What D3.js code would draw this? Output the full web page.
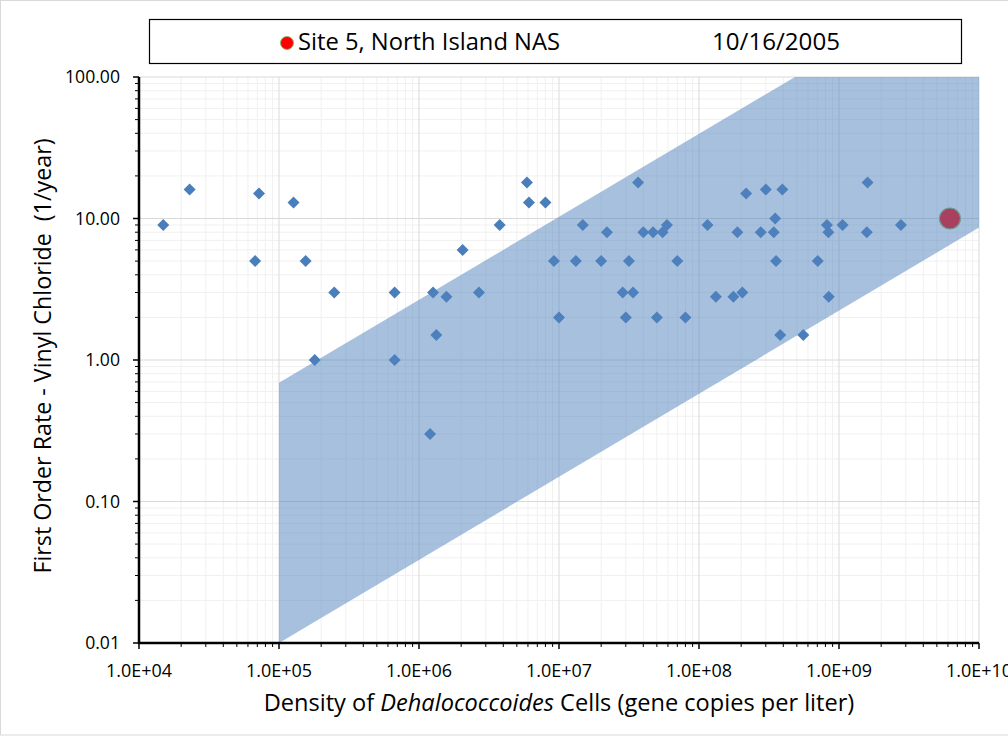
<!DOCTYPE html>
<html><head><meta charset="utf-8">
<script src="https://cdn.jsdelivr.net/npm/d3@7"></script>
<style>body{margin:0;background:#fff;} svg{display:block;}</style>
</head><body>
<svg id="c" width="1008" height="736"></svg>
<script>
// Data (density in gene copies/L, rate in 1/year)
const density = [1.49e4,2.30e4,7.2e4,6.75e4,1.27e5,1.55e5,2.48e5,1.80e5,6.7e5,6.7e5,1.26e6,1.20e6,1.33e6,1.57e6,2.05e6,2.68e6,3.77e6,5.9e6,6.1e6,8.0e6,9.2e6,1.0e7,1.32e7,1.48e7,2.0e7,2.2e7,2.85e7,3.0e7,3.16e7,3.38e7,3.67e7,4.0e7,4.7e7,5.0e7,5.5e7,5.9e7,7.0e7,8.0e7,1.15e8,1.32e8,1.76e8,1.88e8,2.04e8,2.17e8,2.76e8,3.0e8,3.42e8,3.5e8,3.55e8,3.8e8,3.94e8,5.56e8,7.05e8,8.2e8,8.4e8,8.45e8,1.06e9,1.60e9,1.58e9,2.77e9];
const rate    = [9,16,15,5,13,5,3,1,3,1,3,0.3,1.5,2.8,6,3,9,18,13,13,5,2,5,9,5,8,3,2,5,3,18,8,8,2,8,9,5,2,9,2.8,2.8,8,3,15,8,16,8,10,5,1.5,16,1.5,5,9,8,2.8,9,18,8,9];
const siteDensity = [6.2e9];
const siteRate = [10];
const siteLabel = "Site 5, North Island NAS";
const siteDate = "10/16/2005";
// Envelope (range band): lower & upper bounds, log-linear with slope ~0.587
const bandX = [1e5, 1e5, 4.85e8, 1e10, 1e10];
const bandY = [0.01, 0.69, 100, 100, 8.63];
const xTicks = [1e4,1e5,1e6,1e7,1e8,1e9,1e10];
const xTickLabels = ["1.0E+04","1.0E+05","1.0E+06","1.0E+07","1.0E+08","1.0E+09","1.0E+10"];
const yTicks = [0.01,0.1,1,10,100];
const yTickLabels = ["0.01","0.10","1.00","10.00","100.00"];

const svg = d3.select("#c");
const L = 139, R = 979, T = 77, B = 643;
const x = d3.scaleLog().domain([1e4,1e10]).range([L,R]);
const y = d3.scaleLog().domain([0.01,100]).range([B,T]);
const font = "'Open Sans', Lato, sans-serif";

function fit(sel, target) {
  const n = sel.node();
  const w = n.getComputedTextLength();
  const fs = parseFloat(sel.attr("font-size"));
  sel.attr("font-size", (fs * target / w).toFixed(2));
  return sel;
}

// chart border
svg.append("rect").attr("x",0.5).attr("y",0.5).attr("width",1020).attr("height",734.5)
  .attr("fill","none").attr("stroke","#d9d9d9");

// minor values
const minorX = [], minorY = [];
for (let e=4;e<10;e++) for (let k=2;k<10;k++) minorX.push(k*Math.pow(10,e));
for (let e=-2;e<2;e++) for (let k=2;k<10;k++) minorY.push(k*Math.pow(10,e));

const g = svg.append("g");
g.selectAll(".mx").data(minorX).join("line").attr("x1",d=>x(d)).attr("x2",d=>x(d)).attr("y1",T).attr("y2",B).attr("stroke","#f0f0f0");
g.selectAll(".my").data(minorY).join("line").attr("y1",d=>y(d)).attr("y2",d=>y(d)).attr("x1",L).attr("x2",R).attr("stroke","#f0f0f0");
g.selectAll(".Mx").data(xTicks).join("line").attr("x1",d=>x(d)).attr("x2",d=>x(d)).attr("y1",T).attr("y2",B).attr("stroke","#d9d9d9");
g.selectAll(".My").data(yTicks).join("line").attr("y1",d=>y(d)).attr("y2",d=>y(d)).attr("x1",L).attr("x2",R).attr("stroke","#d9d9d9");

// diamonds
const pts = density.map((d,i)=>({x:d,y:rate[i]}));
svg.append("g").selectAll("path").data(pts).join("path")
  .attr("transform",d=>`translate(${x(d.x)},${y(d.y)})`)
  .attr("d","M0,-6L6,0L0,6L-6,0Z").attr("fill","#4a7ebb");

// site point
svg.append("g").selectAll("circle").data(siteDensity).join("circle")
  .attr("cx",d=>x(d)).attr("cy",(d,i)=>y(siteRate[i])).attr("r",10.5)
  .attr("fill","#ff0000").attr("stroke","#8fb36a").attr("stroke-width",1.2);

// band on top, semi-transparent
const bandPts = bandX.map((d,i)=>[x(d),y(bandY[i])]);
svg.append("path").attr("d",d3.line()(bandPts)+"Z").attr("fill","#4f81bd").attr("fill-opacity",0.5);

// axes
const xAxis = svg.append("g");
xAxis.append("line").attr("x1",L-1).attr("x2",R).attr("y1",B).attr("y2",B).attr("stroke","#000").attr("stroke-width",2.5);
xAxis.selectAll(".t").data(xTicks).join("line").attr("x1",d=>x(d)).attr("x2",d=>x(d)).attr("y1",B).attr("y2",B+6).attr("stroke","#000").attr("stroke-width",1.5);
xAxis.selectAll(".mt").data(minorX).join("line").attr("x1",d=>x(d)).attr("x2",d=>x(d)).attr("y1",B).attr("y2",B+4).attr("stroke","#000").attr("stroke-width",1);
const xl = xAxis.selectAll("text").data(xTicks).join("text").attr("x",d=>x(d)).attr("y",677)
  .attr("text-anchor","middle").attr("font-family",font).attr("font-size",15).attr("fill","#000")
  .text((d,i)=>xTickLabels[i]);
{ const w = xl.node().getComputedTextLength(); xl.attr("font-size", (15*66/w).toFixed(2)); }

const yAxis = svg.append("g");
yAxis.append("line").attr("x1",L).attr("x2",L).attr("y1",T).attr("y2",B+1).attr("stroke","#000").attr("stroke-width",2.5);
yAxis.selectAll(".t").data(yTicks).join("line").attr("y1",d=>y(d)).attr("y2",d=>y(d)).attr("x1",L-6).attr("x2",L).attr("stroke","#000").attr("stroke-width",1.5);
yAxis.selectAll(".mt").data(minorY).join("line").attr("y1",d=>y(d)).attr("y2",d=>y(d)).attr("x1",L-4).attr("x2",L).attr("stroke","#000").attr("stroke-width",1);
const yl = yAxis.selectAll("text").data(yTicks).join("text").attr("x",L-19).attr("y",d=>y(d)+6)
  .attr("text-anchor","end").attr("font-family",font).attr("font-size",17).attr("fill","#000")
  .text((d,i)=>yTickLabels[i]);
{ const n = yl.nodes()[4]; const w = n.getComputedTextLength(); yl.attr("font-size", (17*55/w).toFixed(2)); }

// axis titles
const xt = svg.append("text").attr("x",559).attr("y",711).attr("text-anchor","middle")
  .attr("font-family",font).attr("font-size",20).attr("fill","#000");
xt.append("tspan").text("Density of ");
xt.append("tspan").attr("font-style","italic").text("Dehalococcoides");
xt.append("tspan").text(" Cells (gene copies per liter)");
fit(xt, 591);

const yt = svg.append("text").attr("transform","translate(51,356) rotate(-90)").attr("text-anchor","middle")
  .attr("font-family",font).attr("font-size",20).attr("fill","#000")
  .style("white-space","pre")
  .text("First Order Rate - Vinyl Chloride  (1/year)");
fit(yt, 435);

// legend box
svg.append("rect").attr("x",149.5).attr("y",19.5).attr("width",812).attr("height",44)
  .attr("fill","#fff").attr("stroke","#000").attr("stroke-width",1.2);
svg.append("circle").attr("cx",287).attr("cy",43).attr("r",6.5).attr("fill","#ff0000").attr("stroke","#8fb36a").attr("stroke-width",1);
fit(svg.append("text").attr("x",298).attr("y",50).attr("font-family",font).attr("font-size",20).attr("fill","#000").text(siteLabel), 262);
fit(svg.append("text").attr("x",712).attr("y",50).attr("font-family",font).attr("font-size",20).attr("fill","#000").text(siteDate), 128);
</script>
</body></html>
